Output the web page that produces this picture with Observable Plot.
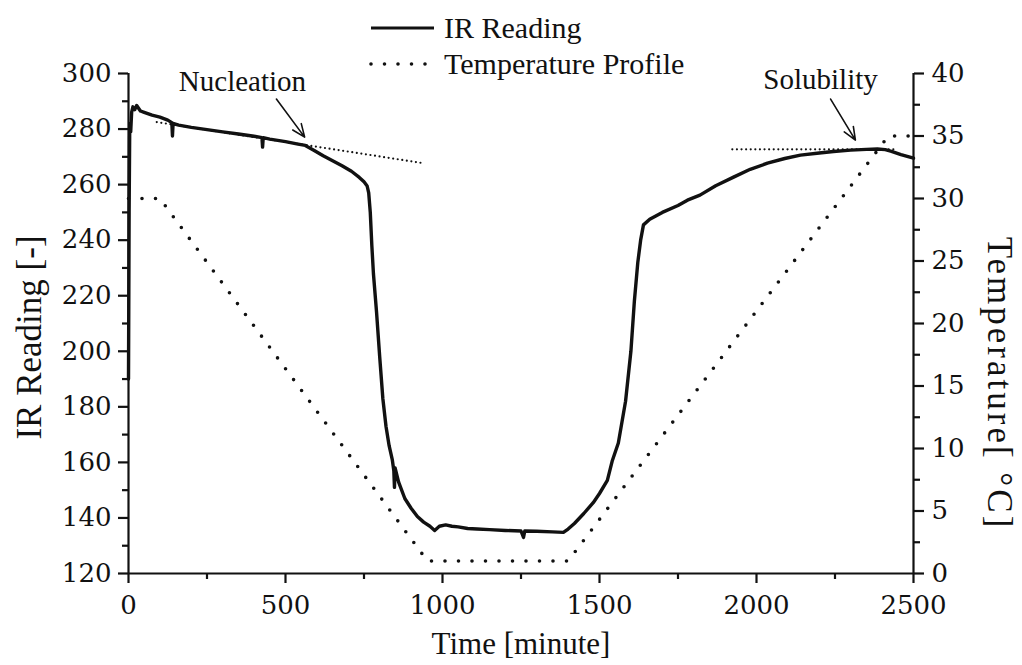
<!DOCTYPE html>
<html>
<head>
<meta charset="utf-8">
<script src="https://cdn.jsdelivr.net/npm/d3@7"></script>
<script src="https://cdn.jsdelivr.net/npm/@observablehq/plot@0.6"></script>
<style>
  body { margin: 0; background: #fff; }
  #chart { position: relative; width: 1022px; height: 665px; font-family: "Liberation Serif", serif; color: #111; }
  #legend { position: absolute; left: 368px; top: 10px; font-size: 30px; line-height: 36px; }
  #legend .row { display: flex; align-items: center; height: 36px; }
  #legend svg { margin-right: 8px; }
</style>
</head>
<body>
<div id="chart">
  <div id="legend"></div>
</div>
<script>
// IR probe reading over the cooling / heating cycle
const irTime = [0, 2, 4, 7, 10, 14, 20, 26, 32, 38, 50, 75, 100, 125, 138, 140, 142, 160, 200, 250, 300, 350, 400, 425, 427, 429, 450, 500, 540, 563, 590, 620, 650, 680, 710, 735, 750, 760, 765, 770, 775, 780, 790, 800, 810, 820, 830, 840, 845, 847, 849, 860, 880, 900, 920, 940, 960, 975, 990, 1010, 1030, 1050, 1080, 1110, 1150, 1200, 1250, 1258, 1262, 1300, 1350, 1385, 1400, 1420, 1450, 1480, 1500, 1525, 1541, 1560, 1583, 1600, 1611, 1622, 1631, 1640, 1660, 1700, 1750, 1780, 1820, 1870, 1927, 1980, 2035, 2090, 2140, 2200, 2245, 2300, 2350, 2385, 2410, 2430, 2460, 2500];
const irValue = [190, 250, 282, 279, 286, 288, 287, 288.5, 287.5, 286.5, 286, 285, 284.3, 283.2, 282.3, 277.5, 282, 281.4, 280.6, 279.8, 279, 278.2, 277.4, 276.9, 273.5, 276.9, 276.4, 275.5, 274.6, 274.1, 272.4, 270.4, 268.6, 266.8, 264.8, 262.6, 261, 259.5, 257, 250, 238, 228, 214, 198, 183, 173, 166, 161, 157, 151, 158, 153, 147, 143.5, 140.5, 138.5, 137, 135.5, 137, 137.5, 137, 136.8, 136.2, 136, 135.8, 135.5, 135.3, 133, 135.3, 135.2, 135, 134.8, 136, 138, 141.6, 145.5, 148.8, 153.5, 160.7, 167, 182, 200, 218, 232, 240, 245.5, 247.5, 250, 252.5, 254.4, 256.2, 259.6, 262.7, 265.5, 267.7, 269.4, 270.6, 271.4, 271.9, 272.4, 272.7, 272.8, 272.6, 272, 270.8, 269.5];

// Programmed jacket temperature profile (°C)
const profileTime = [0, 100, 952, 1400, 2420, 2500];
const profileTemp = [30, 30, 1, 1, 35, 35];

// Tangent construction lines
const nucleationTangentTime = [90, 940];
const nucleationTangentIR = [282.5, 267.7];
const solubilityTangentTime = [1923, 2449];
const solubilityTangentIR = [272.7, 272.7];

// Callouts
const calloutLabel = ["Nucleation", "Solubility"];
const calloutTextTime = [363, 2204];
const calloutTextIR = [296.9, 297.7];
const calloutArrowFrom = [[471, 290.8], [2236, 290.8]];
const calloutArrowTo = [[561, 277.1], [2315, 276.0]];

// Axis ticks
const timeTicks = [0, 500, 1000, 1500, 2000, 2500];
const timeMinorTicks = [250, 750, 1250, 1750, 2250];
const irTicks = [120, 140, 160, 180, 200, 220, 240, 260, 280, 300];
const irMinorTicks = [130, 150, 170, 190, 210, 230, 250, 270, 290];
const tempTicks = [0, 5, 10, 15, 20, 25, 30, 35, 40];
const tempMinorTicks = [2.5, 7.5, 12.5, 17.5, 22.5, 27.5, 32.5, 37.5];

// The temperature axis (0–40 °C) shares the vertical extent of the IR axis (120–300)
const irMin = 120, irMax = 300, tempMax = 40;
const tempToIR = t => irMin + t * (irMax - irMin) / tempMax;

const irData = irTime.map((t, i) => ({t, v: irValue[i]}));
const profile = profileTime.map((t, i) => ({t, v: tempToIR(profileTemp[i])}));
const tangents = [
  {x1: nucleationTangentTime[0], y1: nucleationTangentIR[0], x2: nucleationTangentTime[1], y2: nucleationTangentIR[1]},
  {x1: solubilityTangentTime[0], y1: solubilityTangentIR[0], x2: solubilityTangentTime[1], y2: solubilityTangentIR[1]}
];
const callouts = calloutLabel.map((label, i) => ({
  label, tx: calloutTextTime[i], ty: calloutTextIR[i],
  x1: calloutArrowFrom[i][0], y1: calloutArrowFrom[i][1],
  x2: calloutArrowTo[i][0], y2: calloutArrowTo[i][1]
}));

const ink = "#111";
const serif = "Liberation Serif";
// numerals are set in DejaVu Serif so that they keep their serifs
const numeralFont = "DejaVu Serif";
const axisStroke = 2.2;
const noLabel = () => "";
const tickLabel = {fontFamily: numeralFont, fontSize: 26, fill: ink, lineAnchor: "middle"};

const plot = Plot.plot({
  width: 1022,
  height: 665,
  marginTop: 73,
  marginBottom: 92,
  marginLeft: 128,
  marginRight: 109,
  x: {domain: [0, 2500]},
  y: {domain: [irMin, irMax]},
  style: {fontFamily: serif, fontSize: "30px", color: ink, background: "#fff"},
  marks: [
    // tick marks
    Plot.axisX({ticks: timeTicks, tickSize: 10, strokeWidth: axisStroke, tickFormat: noLabel, label: null}),
    Plot.axisX({ticks: timeMinorTicks, tickSize: 6, strokeWidth: axisStroke, tickFormat: noLabel, label: null}),
    Plot.axisY({ticks: irTicks, tickSize: 10, strokeWidth: axisStroke, tickFormat: noLabel, label: null}),
    Plot.axisY({ticks: irMinorTicks, tickSize: 6, strokeWidth: axisStroke, tickFormat: noLabel, label: null}),
    Plot.axisY({anchor: "right", ticks: tempTicks.map(tempToIR), tickSize: 10, strokeWidth: axisStroke, tickFormat: noLabel, label: null}),
    Plot.axisY({anchor: "right", ticks: tempMinorTicks.map(tempToIR), tickSize: 6, strokeWidth: axisStroke, tickFormat: noLabel, label: null}),
    // axis lines
    Plot.ruleY([irMin], {stroke: ink, strokeWidth: axisStroke}),
    Plot.ruleX([0], {stroke: ink, strokeWidth: axisStroke}),
    Plot.ruleX([2500], {stroke: ink, strokeWidth: axisStroke}),

    // tick labels
    Plot.text(timeTicks, {x: d => d, frameAnchor: "bottom", textAnchor: "middle", dy: 32, text: d => String(d), ...tickLabel}),
    Plot.text(irTicks, {y: d => d, frameAnchor: "left", textAnchor: "end", dx: -17, text: d => String(d), ...tickLabel}),
    Plot.text(tempTicks, {y: d => tempToIR(d), frameAnchor: "right", textAnchor: "start", dx: 18, text: d => String(d), ...tickLabel}),

    // axis titles
    Plot.text(["Time [minute]"], {frameAnchor: "bottom", textAnchor: "middle", dy: 80, fontSize: 31, fill: ink}),
    Plot.text(["IR Reading [-]"], {frameAnchor: "left", textAnchor: "middle", lineAnchor: "middle", rotate: -90, dx: -99, dy: 14, fontSize: 35, fill: ink}),
    Plot.text(["Temperature[ °C]"], {frameAnchor: "right", textAnchor: "middle", lineAnchor: "middle", rotate: 90, dx: 86, dy: 60, fontSize: 35, fill: ink, className: "temp-title"}),

    // temperature profile
    Plot.line(profile, {x: "t", y: "v", stroke: ink, strokeWidth: 3.6, strokeDasharray: "0 13.5", strokeLinecap: "round"}),
    // tangents
    Plot.link(tangents, {x1: "x1", y1: "y1", x2: "x2", y2: "y2", stroke: ink, strokeWidth: 2.2, strokeDasharray: "0 4.6", strokeLinecap: "round"}),
    // IR reading
    Plot.line(irData, {x: "t", y: "v", stroke: ink, strokeWidth: 3.4, strokeLinejoin: "round"}),

    // callouts
    Plot.arrow(callouts, {x1: "x1", y1: "y1", x2: "x2", y2: "y2", stroke: ink, strokeWidth: 1.6, headLength: 13, headAngle: 45}),
    Plot.text(callouts, {x: "tx", y: "ty", text: "label", fontSize: 29, fill: ink})
  ]
});

document.getElementById("chart").appendChild(plot);
// the temperature title is set a little wider, as on the printed figure
d3.select(plot).selectAll(".temp-title text").style("letter-spacing", "3px");

// legend above the plot area
const legend = document.getElementById("legend");
const entries = [
  {label: "IR Reading", dash: null, width: 3},
  {label: "Temperature Profile", dash: "0 13.5", width: 3.6}
];
for (const e of entries) {
  const row = document.createElement("div");
  row.className = "row";
  const svg = d3.create("svg").attr("width", 68).attr("height", 20);
  svg.append("line")
    .attr("x1", 3).attr("x2", 66).attr("y1", 10).attr("y2", 10)
    .attr("stroke", ink).attr("stroke-width", e.width)
    .attr("stroke-linecap", e.dash ? "round" : "butt")
    .attr("stroke-dasharray", e.dash);
  row.appendChild(svg.node());
  const span = document.createElement("span");
  span.textContent = e.label;
  row.appendChild(span);
  legend.appendChild(row);
}
plot.style.position = "absolute";
plot.style.left = "0";
plot.style.top = "0";
legend.style.zIndex = 1;
</script>
</body>
</html>
